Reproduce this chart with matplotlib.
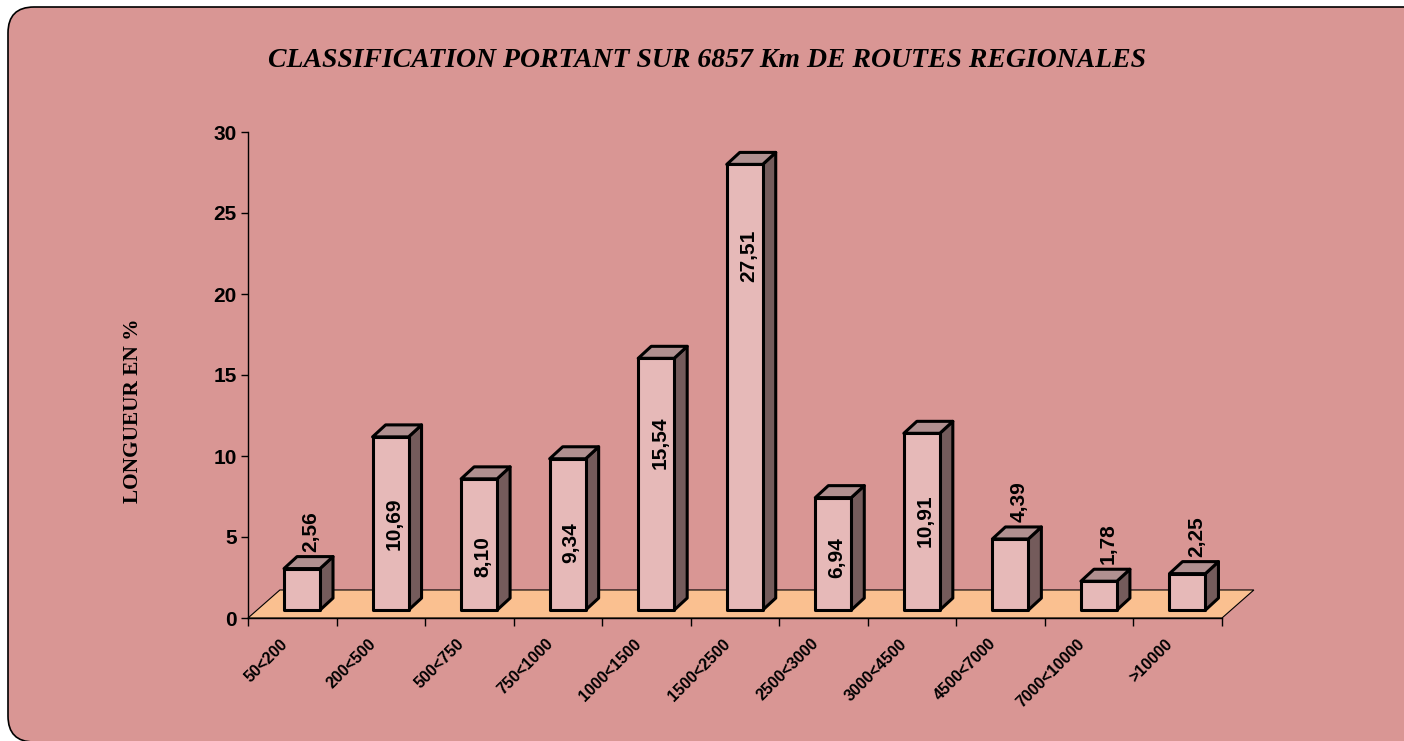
import matplotlib
matplotlib.use("Agg")
import matplotlib.pyplot as plt
from matplotlib.patches import Polygon, FancyBboxPatch
from matplotlib.transforms import IdentityTransform, ScaledTranslation

categories = ["50<200", "200<500", "500<750", "750<1000", "1000<1500", "1500<2500",
              "2500<3000", "3000<4500", "4500<7000", "7000<10000", ">10000"]
values = [2.56, 10.69, 8.10, 9.34, 15.54, 27.51, 6.94, 10.91, 4.39, 1.78, 2.25]
value_labels = ["2,56", "10,69", "8,10", "9,34", "15,54", "27,51", "6,94", "10,91", "4,39", "1,78", "2,25"]
# centre of the label when it sits inside the bar (None = above the bar)
inside_y = [None, 5.8, 3.77, 4.63, 10.8, 22.35, 3.73, 5.99, None, None, None]

BG = "#D99694"
FLOOR = "#FAC090"
FRONT = "#E6B9B8"
TOP = "#B09090"
SIDE = "#745B5B"

# depth of the floor and of the bars (data units)
floor_dx, floor_dy = 0.36, 1.73
front_dx, front_dy = 0.11, 0.49
bar_dx, bar_dy = 0.147, 0.74
half_w = 0.203

fig = plt.figure(figsize=(14.04, 7.41), dpi=100, facecolor="white")
frame = FancyBboxPatch((8, -1), 1430, 735, boxstyle="round,pad=0,rounding_size=26",
                       transform=IdentityTransform(), facecolor=BG, edgecolor="black",
                       linewidth=1.2, zorder=-5)
fig.patches.append(frame)

ax = fig.add_axes([248 / 1404, 123 / 741, 974 / 1404, 486 / 741])
ax.set_zorder(1)
ax.set_facecolor("none")
ax.set_xlim(0, len(categories))
ax.set_ylim(0, 30)

for s in ["top", "right"]:
    ax.spines[s].set_visible(False)
ax.spines["left"].set_linewidth(1.0)
ax.spines["bottom"].set_linewidth(1.0)

n = len(categories)
ax.add_patch(Polygon([(0, 0), (n, 0), (n + floor_dx, floor_dy), (floor_dx, floor_dy)],
                     closed=True, facecolor=FLOOR, edgecolor="black", linewidth=0.8,
                     zorder=1, clip_on=False))

for i, v in enumerate(values):
    x0 = i + 0.5 - half_w + front_dx
    x1 = i + 0.5 + half_w + front_dx
    y0 = front_dy
    y1 = front_dy + v
    kw = dict(closed=True, edgecolor="black", linewidth=2.2, joinstyle="round",
              zorder=3, clip_on=False)
    ax.add_patch(Polygon([(x1, y0), (x1 + bar_dx, y0 + bar_dy), (x1 + bar_dx, y1 + bar_dy), (x1, y1)],
                         facecolor=SIDE, **kw))
    ax.add_patch(Polygon([(x0, y1), (x1, y1), (x1 + bar_dx, y1 + bar_dy), (x0 + bar_dx, y1 + bar_dy)],
                         facecolor=TOP, **kw))
    ax.add_patch(Polygon([(x0, y0), (x1, y0), (x1, y1), (x0, y1)], facecolor=FRONT, **kw))

    if inside_y[i] is None:
        ax.text((x0 + x1) / 2 + 0.1, y1 + bar_dy + 0.3, value_labels[i], rotation=90,
                ha="center", va="bottom", fontsize=15, fontweight="bold",
                family="Liberation Sans", zorder=4)
    else:
        ax.text((x0 + x1) / 2 + 0.04, inside_y[i], value_labels[i], rotation=90,
                ha="center", va="center", fontsize=15, fontweight="bold",
                family="Liberation Sans", zorder=4)

ax.set_yticks(range(0, 31, 5))
ax.tick_params(axis="y", direction="out", length=5, width=1, pad=3, labelsize=15)
for lab in ax.get_yticklabels():
    lab.set_fontweight("bold")
    lab.set_family("Liberation Sans")

ax.set_xticks(range(0, n + 1))
ax.set_xticklabels([])
ax.tick_params(axis="x", which="major", direction="out", length=6, width=1)
ax.set_xticks([i + 0.5 for i in range(n)], minor=True)
ax.set_xticklabels(categories, minor=True, rotation=45, ha="right", va="top",
                   rotation_mode="anchor", fontsize=11.5, fontweight="bold",
                   family="Liberation Sans")
ax.tick_params(axis="x", which="minor", length=0, pad=13)
shift = ScaledTranslation(-9 / 72, 0, fig.dpi_scale_trans)
for lab in ax.get_xticklabels(minor=True):
    lab.set_transform(lab.get_transform() + shift)

ax.text(-0.118, 0.426, "LONGUEUR EN %", transform=ax.transAxes, rotation=90,
        ha="center", va="center", fontsize=15.3, fontweight="bold", family="Liberation Serif")

fig.text(0.5036, 0.918, "CLASSIFICATION PORTANT SUR 6857 Km DE ROUTES REGIONALES",
         ha="center", va="center", fontsize=20, fontweight="bold", fontstyle="italic",
         family="Liberation Serif")

fig.savefig("out.png", dpi=100, facecolor="white")
